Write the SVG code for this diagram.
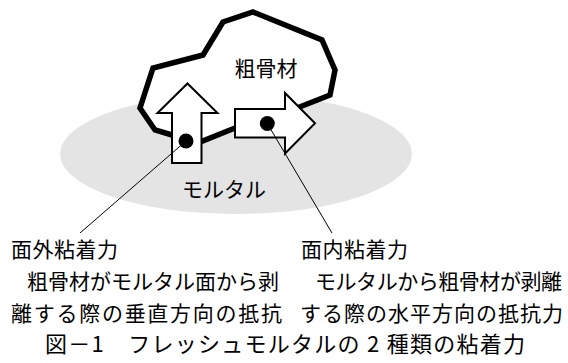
<svg xmlns="http://www.w3.org/2000/svg" width="568" height="363" viewBox="0 0 568 363">
<style>
.t{font-family:"Noto Sans CJK JP","Noto Sans CJK SC",sans-serif;font-size:21px;fill:#000}
.cap{font-size:22px}
.arrow{fill:#fff;stroke:#000;stroke-width:2;stroke-linejoin:miter}
.dot{fill:#000}
.lead{stroke:#000;stroke-width:1;fill:none}
</style>
<rect width="568" height="363" fill="#fff"/>
<g id="mortar">
<ellipse cx="236" cy="154" rx="176" ry="60" fill="#e4e4e4"/>
</g>
<g id="aggregate">
<polygon points="253,12 322,40 335,70 330,95 297,108 235,128 200,142 172,135 155,130 140,108 153,68 203,55 223,22" fill="#fff" stroke="#000" stroke-width="5.5" stroke-linejoin="miter"/>
<text class="t" x="266" y="76" text-anchor="middle">粗骨材</text>
</g>
<g id="out-of-plane">
<polygon class="arrow" points="187.5,83.5 217.5,113 201.5,113 201.5,163 172,163 172,113 157.5,113"/>
<circle class="dot" cx="186" cy="141" r="7.5"/>
</g>
<g id="in-plane">
<polygon class="arrow" points="235,109 285,109 285,93 315,123.3 285,153.5 285,137.5 235,137.5"/>
<circle class="dot" cx="267.3" cy="123.5" r="7.5"/>
</g>
<text class="t" x="224" y="197" text-anchor="middle">モルタル</text>
<g id="connectors">
<line class="lead" x1="186" y1="141" x2="80" y2="233"/>
<line class="lead" x1="267.3" y1="123.5" x2="332" y2="233"/>
</g>
<g id="label-out">
<text class="t" x="11" y="257" textLength="107" lengthAdjust="spacing">面外粘着力</text>
<text class="t" x="27" y="289" textLength="252" lengthAdjust="spacing">粗骨材がモルタル面から剥</text>
<text class="t" x="11" y="321" textLength="271" lengthAdjust="spacing">離する際の垂直方向の抵抗</text>
</g>
<g id="label-in">
<text class="t" x="301" y="257" textLength="107" lengthAdjust="spacing">面内粘着力</text>
<text class="t" x="315" y="289" textLength="247" lengthAdjust="spacing">モルタルから粗骨材が剥離</text>
<text class="t" x="300" y="321" textLength="263" lengthAdjust="spacing">する際の水平方向の抵抗力</text>
</g>
<text class="t cap" x="45" y="352" textLength="480" lengthAdjust="spacing">図－1　フレッシュモルタルの 2 種類の粘着力</text>
</svg>
